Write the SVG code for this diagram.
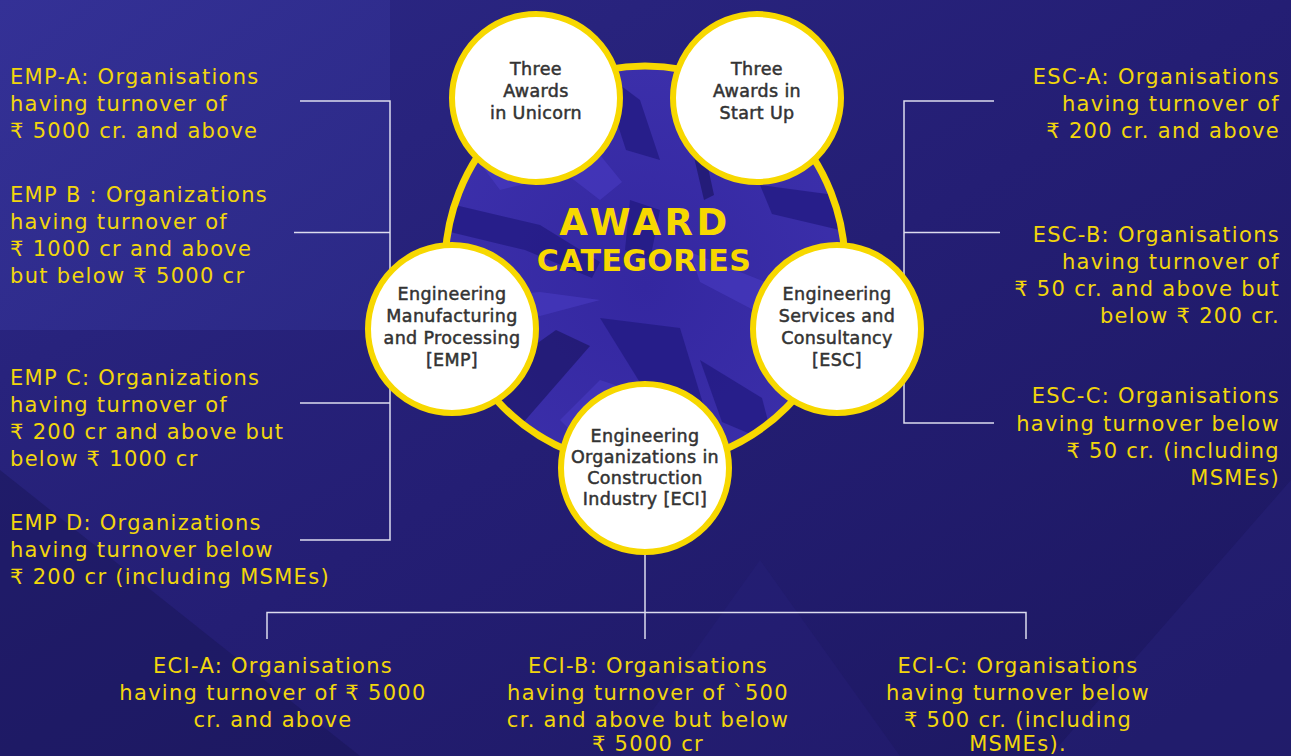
<svg xmlns="http://www.w3.org/2000/svg" width="1291" height="756" viewBox="0 0 1291 756">
<defs>
<linearGradient id="bg" x1="0" y1="0" x2="1" y2="1">
<stop offset="0" stop-color="#2c2886"/>
<stop offset="0.5" stop-color="#241e74"/>
<stop offset="1" stop-color="#1c175f"/>
</linearGradient>
<linearGradient id="panel" x1="0" y1="0" x2="1" y2="1">
<stop offset="0" stop-color="#36339a"/>
<stop offset="1" stop-color="#2c2a88"/>
</linearGradient>
<radialGradient id="crys" cx="0.5" cy="0.55" r="0.55">
<stop offset="0" stop-color="#3427a0"/>
<stop offset="1" stop-color="#3b2faa"/>
</radialGradient>
<clipPath id="bigclip"><circle cx="645" cy="266" r="200"/></clipPath>
<style>
.side{font-family:"DejaVu Sans","Noto Sans",sans-serif;font-size:21px;fill:#f2d60c;letter-spacing:1.3px}
.r{text-anchor:end}
.c{text-anchor:middle}
.node{font-family:"DejaVu Sans","Noto Sans",sans-serif;font-size:17.5px;fill:#333333;stroke:#333333;stroke-width:0.5;letter-spacing:0.35px;text-anchor:middle}
.title{font-family:"DejaVu Sans","Noto Sans",sans-serif;font-weight:bold;fill:#f7d800;text-anchor:middle}
.ring{fill:#ffffff;stroke:#f7d800;stroke-width:6}
.conn{stroke:#dcdcee;stroke-width:1.5;fill:none}
.sd{fill:#221a80;opacity:0.75}
.sk{fill:#18125c;opacity:0.6}
.sl{fill:#4a3dc4;opacity:0.55}
</style>
</defs>
<rect x="0" y="0" width="1291" height="756" fill="url(#bg)"/>
<rect x="0" y="0" width="390" height="330" fill="url(#panel)" opacity="0.8"/>
<polygon points="0,470 0,756 360,756" fill="#17134f" opacity="0.4"/>
<polygon points="1291,480 1291,756 1050,756" fill="#2a2580" opacity="0.35"/>
<polygon points="620,756 760,560 900,756" fill="#2a2484" opacity="0.25"/>

<g id="center">
<circle cx="645" cy="266" r="200" fill="url(#crys)"/>
<g clip-path="url(#bigclip)">
<polygon class="sd" points="455,205 540,225 600,262 592,278 525,250 450,232"/>
<polygon class="sk" points="688,75 702,140 714,195 704,200 690,140 680,80"/>
<polygon class="sd" points="760,185 842,196 848,232 772,214"/>
<polygon class="sd" points="600,318 680,328 708,420 652,402"/>
<polygon class="sk" points="480,384 556,330 590,346 522,424"/>
<polygon class="sl" points="522,140 600,200 622,182 570,118"/>
<polygon class="sl" points="690,252 800,296 792,330 700,282"/>
<polygon class="sd" points="700,360 762,398 774,444 722,422"/>
<polygon class="sd" points="600,70 640,100 660,160 626,150"/>
<polygon class="sl" points="450,300 540,292 600,300 540,316"/>
<polygon class="sk" points="760,110 790,150 780,180 744,140"/>
<polygon class="sl" points="560,420 600,380 630,390 600,460"/>
<polygon class="sd" points="630,200 660,210 650,260 625,250"/>
<polygon class="sk" points="800,360 840,330 850,360 810,400"/>
<polygon class="sl" points="470,150 500,120 540,180 500,190"/>
</g>
<circle cx="645" cy="266" r="200" fill="none" stroke="#f7d800" stroke-width="7"/>
<text class="title" x="645" y="235" font-size="37" letter-spacing="3.5">AWARD</text>
<text class="title" x="644" y="271" font-size="30" letter-spacing="0.4">CATEGORIES</text>
</g>

<g id="connectors">
<path class="conn" d="M300,101 H390 V540 H300 M294,232.5 H390 M300,403 H390"/>
<path class="conn" d="M994,101 H904 V423 H994 M1000,232.5 H904"/>
<path class="conn" d="M645,550 V639 M267,639 V612.5 H1026 V639"/>
</g>

<g id="node-unicorn">
<circle class="ring" cx="536" cy="98" r="84"/>
<text class="node" x="536" y="75">Three</text>
<text class="node" x="536" y="97">Awards</text>
<text class="node" x="536" y="119">in Unicorn</text>
</g>
<g id="node-startup">
<circle class="ring" cx="757" cy="98" r="84"/>
<text class="node" x="757" y="75">Three</text>
<text class="node" x="757" y="97">Awards in</text>
<text class="node" x="757" y="119">Start Up</text>
</g>
<g id="node-emp">
<circle class="ring" cx="452" cy="329" r="84"/>
<text class="node" x="452" y="300">Engineering</text>
<text class="node" x="452" y="322">Manufacturing</text>
<text class="node" x="452" y="344">and Processing</text>
<text class="node" x="452" y="366">[EMP]</text>
</g>
<g id="node-esc">
<circle class="ring" cx="837" cy="329" r="84"/>
<text class="node" x="837" y="300">Engineering</text>
<text class="node" x="837" y="322">Services and</text>
<text class="node" x="837" y="344">Consultancy</text>
<text class="node" x="837" y="366">[ESC]</text>
</g>
<g id="node-eci">
<circle class="ring" cx="645" cy="468" r="84"/>
<text class="node" x="645" y="442">Engineering</text>
<text class="node" x="645" y="463">Organizations in</text>
<text class="node" x="645" y="484">Construction</text>
<text class="node" x="645" y="505">Industry [ECI]</text>
</g>

<g id="emp-a">
<text class="side" x="10" y="84">EMP-A: Organisations</text>
<text class="side" x="10" y="111">having turnover of</text>
<text class="side" x="10" y="138">₹ 5000 cr. and above</text>
</g>
<g id="emp-b">
<text class="side" x="10" y="202">EMP B : Organizations</text>
<text class="side" x="10" y="229">having turnover of</text>
<text class="side" x="10" y="256">₹ 1000 cr and above</text>
<text class="side" x="10" y="283">but below ₹ 5000 cr</text>
</g>
<g id="emp-c">
<text class="side" x="10" y="385">EMP C: Organizations</text>
<text class="side" x="10" y="412">having turnover of</text>
<text class="side" x="10" y="439">₹ 200 cr and above but</text>
<text class="side" x="10" y="466">below ₹ 1000 cr</text>
</g>
<g id="emp-d">
<text class="side" x="10" y="530">EMP D: Organizations</text>
<text class="side" x="10" y="557">having turnover below</text>
<text class="side" x="10" y="584">₹ 200 cr (including MSMEs)</text>
</g>

<g id="esc-a">
<text class="side r" x="1280" y="84">ESC-A: Organisations</text>
<text class="side r" x="1280" y="111">having turnover of</text>
<text class="side r" x="1280" y="138">₹ 200 cr. and above</text>
</g>
<g id="esc-b">
<text class="side r" x="1280" y="242">ESC-B: Organisations</text>
<text class="side r" x="1280" y="269">having turnover of</text>
<text class="side r" x="1280" y="296">₹ 50 cr. and above but</text>
<text class="side r" x="1280" y="323">below ₹ 200 cr.</text>
</g>
<g id="esc-c">
<text class="side r" x="1280" y="403">ESC-C: Organisations</text>
<text class="side r" x="1280" y="431">having turnover below</text>
<text class="side r" x="1280" y="458">₹ 50 cr. (including</text>
<text class="side r" x="1280" y="485">MSMEs)</text>
</g>

<g id="eci-a">
<text class="side c" x="273" y="673">ECI-A: Organisations</text>
<text class="side c" x="273" y="700">having turnover of ₹ 5000</text>
<text class="side c" x="273" y="727">cr. and above</text>
</g>
<g id="eci-b">
<text class="side c" x="648" y="673">ECI-B: Organisations</text>
<text class="side c" x="648" y="700">having turnover of `500</text>
<text class="side c" x="648" y="727">cr. and above but below</text>
<text class="side c" x="648" y="751">₹ 5000 cr</text>
</g>
<g id="eci-c">
<text class="side c" x="1018" y="673">ECI-C: Organisations</text>
<text class="side c" x="1018" y="700">having turnover below</text>
<text class="side c" x="1018" y="727">₹ 500 cr. (including</text>
<text class="side c" x="1018" y="751">MSMEs).</text>
</g>
</svg>
